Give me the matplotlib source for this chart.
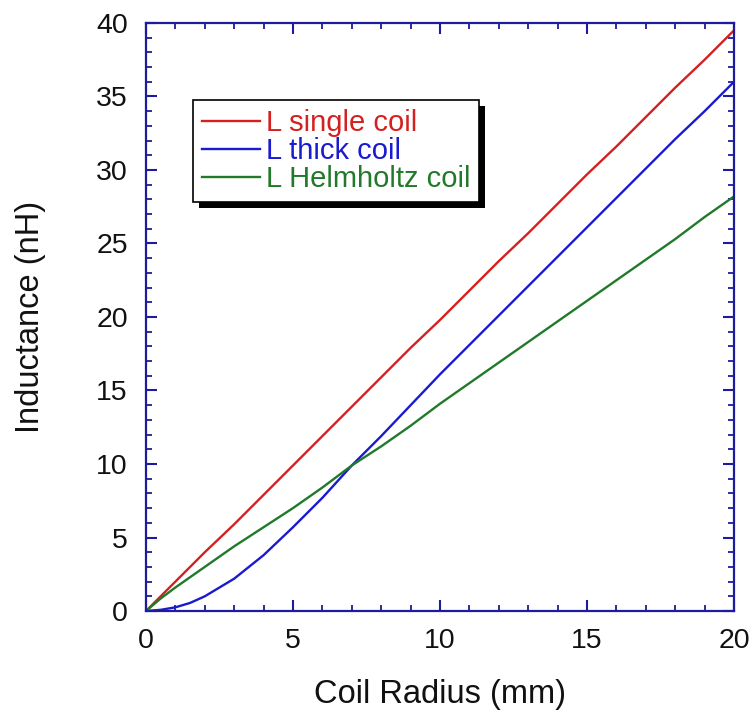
import matplotlib
matplotlib.use("Agg")
import matplotlib.pyplot as plt
import matplotlib.patheffects as pe
from matplotlib.ticker import MultipleLocator

plt.rcParams['font.family'] = ['Liberation Sans', 'DejaVu Sans']

radius_mm = [0, 0.5, 1, 1.5, 2, 3, 4, 5, 6, 7, 8, 9, 10, 11, 12, 13, 14, 15, 16, 17, 18, 19, 20]
L_single = [0, 1.0, 2.0, 3.0, 4.0, 5.9, 7.9, 9.9, 11.9, 13.9, 15.9, 17.9, 19.8, 21.8, 23.8, 25.7,
            27.7, 29.7, 31.6, 33.6, 35.6, 37.5, 39.5]
L_thick = [0, 0.08, 0.25, 0.55, 1.0, 2.2, 3.8, 5.7, 7.7, 9.9, 11.9, 14.0, 16.1, 18.1, 20.1, 22.1,
           24.1, 26.1, 28.1, 30.1, 32.1, 34.0, 36.0]
L_helm = [0, 0.85, 1.6, 2.3, 3.0, 4.4, 5.7, 7.0, 8.4, 9.9, 11.2, 12.6, 14.1, 15.5, 16.9, 18.3,
          19.7, 21.1, 22.5, 23.9, 25.3, 26.8, 28.2]

labels = ['L single coil', 'L thick coil', 'L Helmholtz coil']
colors = ['#d42020', '#1a1ad0', '#217a2a']
spine_color = '#1c1c9c'

fig = plt.figure(figsize=(7.51, 7.17), dpi=100)
ax = fig.add_axes([146/751, 1 - 611/717, 588/751, 588/717])

for y, lab, c in zip([L_single, L_thick, L_helm], labels, colors):
    ax.plot(radius_mm, y, color=c, lw=1.7, label=lab)

ax.set_xlim(0, 20)
ax.set_ylim(0, 40)
ax.xaxis.set_major_locator(MultipleLocator(5))
ax.xaxis.set_minor_locator(MultipleLocator(1))
ax.yaxis.set_major_locator(MultipleLocator(5))
ax.yaxis.set_minor_locator(MultipleLocator(1))
ax.tick_params(which='both', direction='in', top=True, right=True, color=spine_color,
               labelsize=20.5, labelcolor='#111111')
ax.tick_params(which='major', length=8, width=1.5)
ax.tick_params(axis='y', which='major', pad=13)
ax.tick_params(axis='x', which='major', pad=12)
ax.tick_params(which='minor', length=4.5, width=1.3)
for s in ax.spines.values():
    s.set_color(spine_color)
    s.set_linewidth(1.6)

ax.set_xlabel('Coil Radius (mm)', fontsize=23.5, labelpad=18, color='#111111')
ax.set_ylabel('Inductance (nH)', fontsize=23.5, labelpad=36, color='#111111')

leg = ax.legend(loc='upper left', bbox_to_anchor=(0.08, 0.869), fontsize=21,
                frameon=True, fancybox=False, edgecolor='black', framealpha=1,
                shadow=False, labelcolor='linecolor',
                handlelength=2.0, handletextpad=0.2, labelspacing=0.0,
                borderpad=0.3, borderaxespad=0)
frame = leg.get_frame()
frame.set_linewidth(1.2)
frame.set_path_effects([pe.SimplePatchShadow(offset=(4, -4.5), shadow_rgbFace='black', alpha=1),
                        pe.Normal()])

fig.savefig('out.png', dpi=100)
